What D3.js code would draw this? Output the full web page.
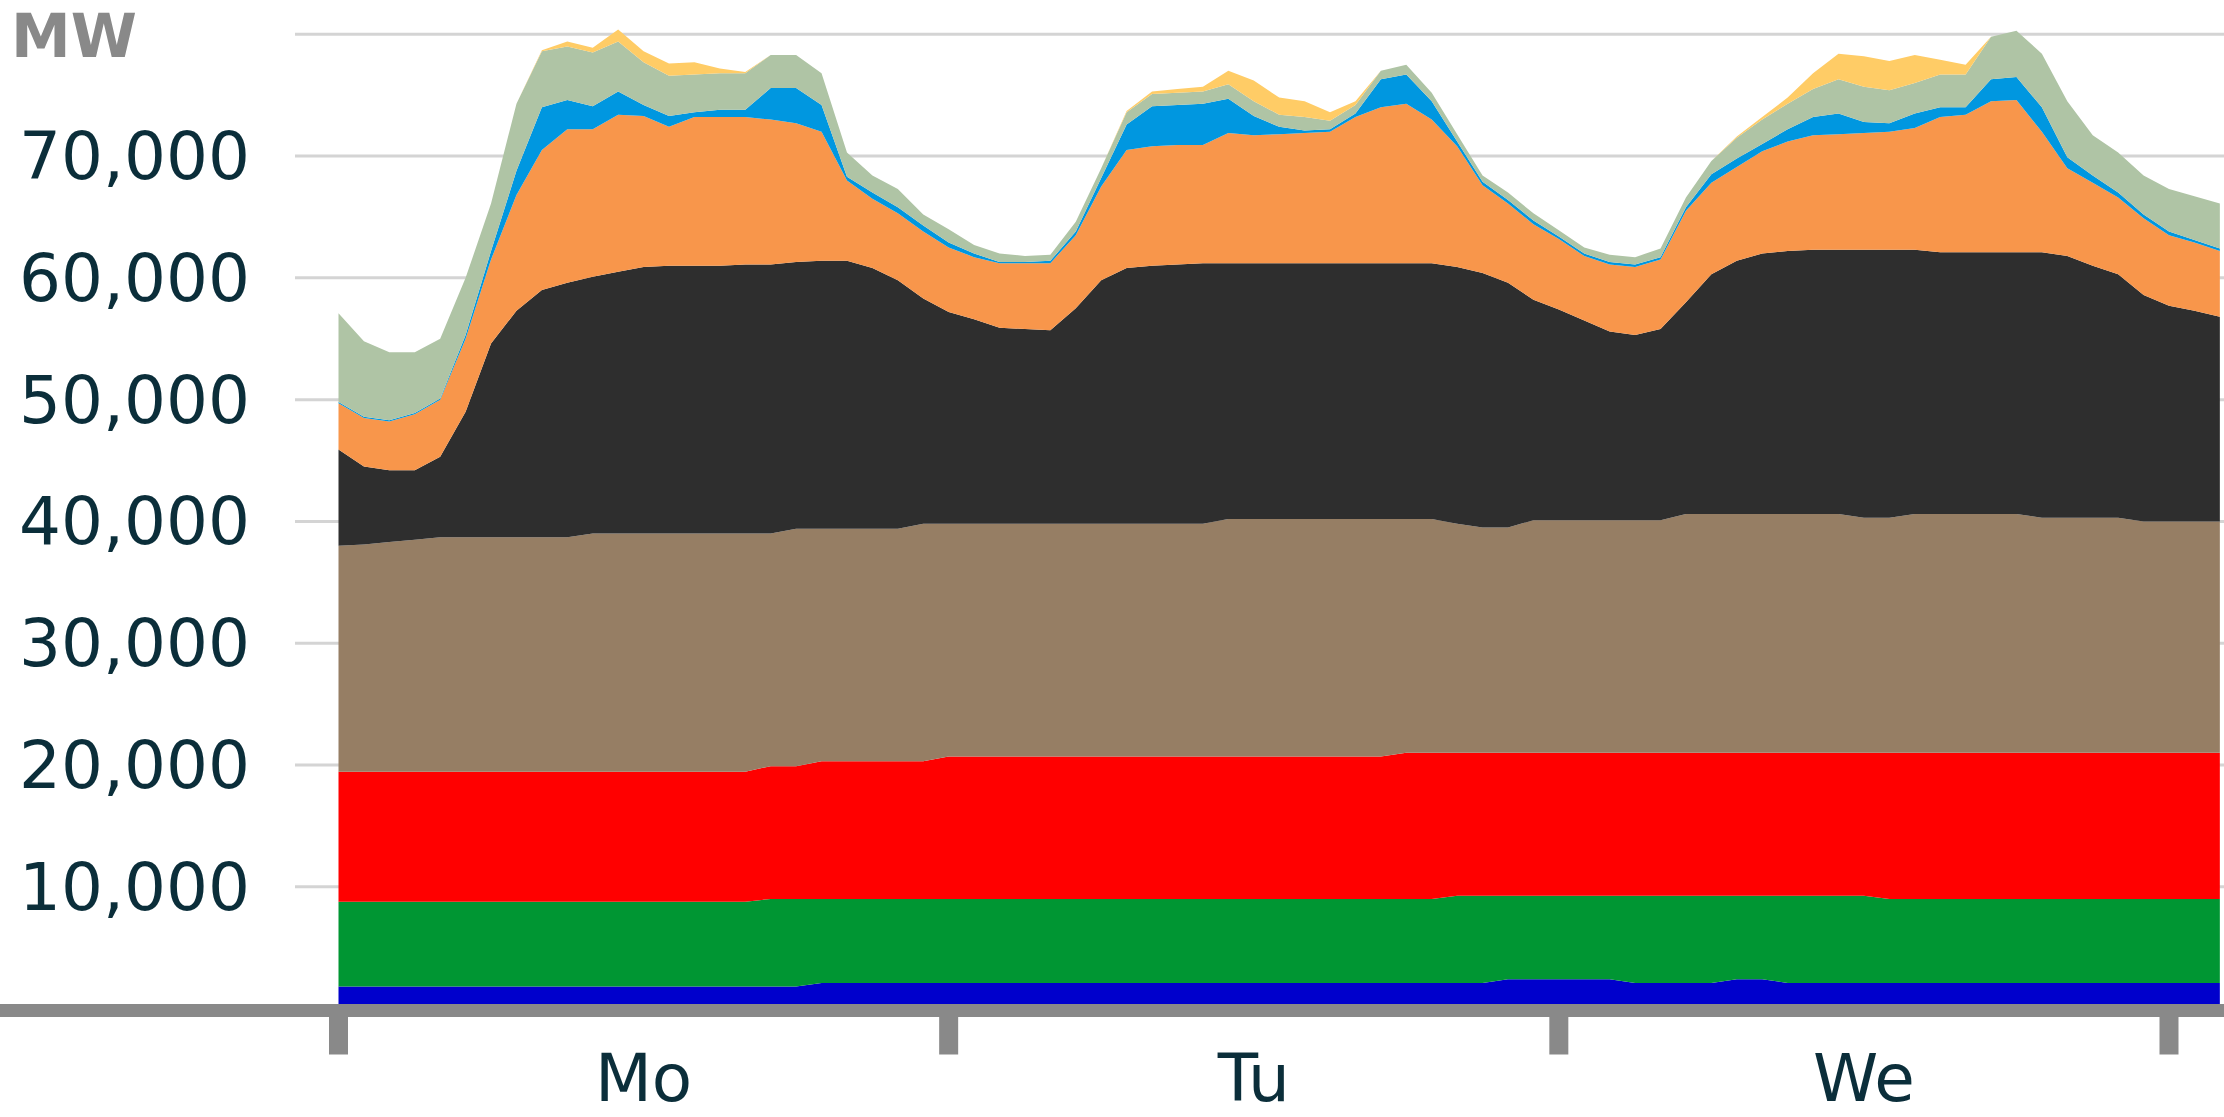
<!DOCTYPE html>
<html>
<head>
<meta charset="utf-8">
<script src="https://cdn.jsdelivr.net/npm/d3@7"></script>
<style>
  body { margin: 0; background: #fff; }
  svg { display: block; }
</style>
</head>
<body>
<div id="chart"></div>
<script>
// hourly values, Monday 00:00 to Thursday 02:00 (MW)
const hours = d3.range(0, 75);
const dayTicks = [0, 24, 48, 72];
const dayLabels = ["Mo", "Tu", "We"];
const gridValues = [10000, 20000, 30000, 40000, 50000, 60000, 70000, 80000];
const labelValues = [10000, 20000, 30000, 40000, 50000, 60000, 70000];

const hydro = [
  1800, 1800, 1800, 1800, 1800, 1800, 1800, 1800, 1800, 1800,
  1800, 1800, 1800, 1800, 1800, 1800, 1800, 1800, 1800, 2100,
  2100, 2100, 2100, 2100, 2100, 2100, 2100, 2100, 2100, 2100,
  2100, 2100, 2100, 2100, 2100, 2100, 2100, 2100, 2100, 2100,
  2100, 2100, 2100, 2100, 2100, 2100, 2400, 2400, 2400, 2400,
  2400, 2100, 2100, 2100, 2100, 2400, 2400, 2100, 2100, 2100,
  2100, 2100, 2100, 2100, 2100, 2100, 2100, 2100, 2100, 2100,
  2100, 2100, 2100, 2100, 2100];
const biomass = [
  6970, 6970, 6970, 6970, 6970, 6970, 6970, 6970, 6970, 6970,
  6970, 6970, 6970, 6970, 6970, 6970, 6970, 7200, 7200, 6900,
  6900, 6900, 6900, 6900, 6900, 6900, 6900, 6900, 6900, 6900,
  6900, 6900, 6900, 6900, 6900, 6900, 6900, 6900, 6900, 6900,
  6900, 6900, 6900, 6900, 7160, 7160, 6860, 6860, 6860, 6860,
  6860, 7160, 7160, 7160, 7160, 6860, 6860, 7160, 7160, 7160,
  7160, 6900, 6900, 6900, 6900, 6900, 6900, 6900, 6900, 6900,
  6900, 6900, 6900, 6900, 6900];
const nuclear = [
  10680, 10680, 10680, 10680, 10680, 10680, 10680, 10680, 10680, 10680,
  10680, 10680, 10680, 10680, 10680, 10680, 10680, 10900, 10900, 11300,
  11300, 11300, 11300, 11300, 11700, 11700, 11700, 11700, 11700, 11700,
  11700, 11700, 11700, 11700, 11700, 11700, 11700, 11700, 11700, 11700,
  11700, 11700, 12000, 12000, 11740, 11740, 11740, 11740, 11740, 11740,
  11740, 11740, 11740, 11740, 11740, 11740, 11740, 11740, 11740, 11740,
  11740, 12000, 12000, 12000, 12000, 12000, 12000, 12000, 12000, 12000,
  12000, 12000, 12000, 12000, 12000];
const lignite = [
  18550, 18650, 18850, 19050, 19250, 19250, 19250, 19250, 19250, 19250,
  19550, 19550, 19550, 19550, 19550, 19550, 19550, 19100, 19500, 19100,
  19100, 19100, 19100, 19500, 19100, 19100, 19100, 19100, 19100, 19100,
  19100, 19100, 19100, 19100, 19100, 19500, 19500, 19500, 19500, 19500,
  19500, 19500, 19200, 19200, 18800, 18500, 18500, 19100, 19100, 19100,
  19100, 19100, 19100, 19600, 19600, 19600, 19600, 19600, 19600, 19600,
  19300, 19300, 19600, 19600, 19600, 19600, 19600, 19300, 19300, 19300,
  19300, 19000, 19000, 19000, 19000];
const hardCoal = [
  7900, 6400, 5900, 5700, 6600, 10300, 15900, 18600, 20300, 20900,
  21100, 21500, 21900, 22000, 22000, 22000, 22100, 22100, 21900, 22000,
  22000, 21400, 20400, 18500, 17400, 16800, 16100, 16000, 15900, 17700,
  20000, 21000, 21200, 21300, 21400, 21000, 21000, 21000, 21000, 21000,
  21000, 21000, 21000, 21000, 21100, 20900, 20100, 18100, 17300, 16400,
  15500, 15200, 15700, 17400, 19700, 20800, 21400, 21600, 21700, 21700,
  22000, 22000, 21700, 21500, 21500, 21500, 21500, 21800, 21500, 20700,
  20000, 18600, 17700, 17300, 16800];
const gas = [
  3800, 4000, 4000, 4600, 4700, 6000, 6900, 9500, 11500, 12600,
  12100, 12900, 12400, 11400, 12200, 12200, 12100, 11900, 11400, 10600,
  6600, 5700, 5500, 5500, 5300, 5100, 5300, 5400, 5500, 6000,
  7700, 9700, 9800, 9800, 9700, 10700, 10500, 10600, 10700, 10800,
  12000, 12800, 13100, 11800, 9900, 7200, 6500, 6200, 5800, 5300,
  5500, 5600, 5700, 7500, 7500, 7700, 8400, 9000, 9400, 9500,
  9600, 9700, 10000, 11100, 11300, 12400, 12500, 9900, 7200, 6800,
  6300, 6300, 5800, 5600, 5400];
const pumped = [
  100, 100, 100, 100, 100, 300, 700, 2000, 3500, 2400,
  1900, 1900, 900, 900, 400, 600, 600, 2600, 2900, 2200,
  300, 500, 500, 500, 400, 300, 100, 100, 200, 300,
  700, 2100, 3300, 3300, 3400, 2800, 1600, 600, 200, 200,
  300, 2300, 2400, 1500, 400, 300, 300, 300, 200, 200,
  200, 200, 200, 300, 700, 700, 600, 1000, 1500, 1700,
  900, 700, 1200, 800, 600, 1800, 1900, 2000, 900, 600,
  400, 300, 300, 200, 200];
const wind = [
  7300, 6200, 5600, 5000, 4900, 4700, 3900, 5500, 4600, 4400,
  4400, 4100, 3500, 3300, 3100, 3000, 3000, 2700, 2700, 2600,
  2000, 1400, 1500, 900, 1100, 700, 700, 500, 500, 800,
  800, 1000, 1000, 1000, 1000, 1200, 1200, 1000, 1100, 700,
  700, 700, 800, 700, 600, 500, 600, 600, 500, 500,
  600, 600, 700, 800, 1100, 1700, 2000, 2100, 2300, 2800,
  2900, 2700, 2500, 2700, 2700, 3500, 3800, 4400, 4600, 3300,
  3300, 3200, 3500, 3600, 3700];
const solar = [
  0, 0, 0, 0, 0, 0, 0, 0, 100, 400,
  400, 1000, 900, 1000, 1000, 400, 100, 0, 0, 0,
  0, 0, 0, 0, 0, 0, 0, 0, 0, 0,
  0, 100, 200, 300, 400, 1100, 1700, 1400, 1300, 700,
  300, 0, 0, 0, 0, 0, 0, 0, 0, 0,
  0, 0, 0, 0, 0, 100, 200, 500, 1300, 2100,
  2500, 2400, 2300, 1200, 800, 0, 0, 0, 0, 0,
  0, 0, 0, 0, 0];

const keys = ["hydro", "biomass", "nuclear", "lignite", "hardCoal", "gas", "pumped", "wind", "solar"];
const colors = {
  hydro: "#0000cc", biomass: "#009633", nuclear: "#ff0000", lignite: "#967e64",
  hardCoal: "#2e2e2e", gas: "#f8964b", pumped: "#0097e0", wind: "#afc4a5", solar: "#ffcc66"
};

const series = { hydro, biomass, nuclear, lignite, hardCoal, gas, pumped, wind, solar };
const table = hours.map((h, i) => {
  const row = { hour: h };
  keys.forEach(k => row[k] = series[k][i]);
  return row;
});

const width = 2224, height = 1117;
const font = "'DejaVu Sans', Verdana, sans-serif";

const x = d3.scaleLinear().domain([0, 72]).range([338.5, 2169]);
const y = d3.scaleLinear().domain([0, 80000]).range([1008.5, 34.3]);

const svg = d3.select("#chart")
  .append("svg")
  .attr("width", width)
  .attr("height", height)
  .attr("viewBox", `0 0 ${width} ${height}`);

svg.append("rect").attr("width", width).attr("height", height).attr("fill", "#fff");

// gridlines
svg.append("g")
  .selectAll("line")
  .data(gridValues)
  .join("line")
  .attr("x1", 295)
  .attr("x2", width)
  .attr("y1", d => y(d))
  .attr("y2", d => y(d))
  .attr("stroke", "#d4d4d4")
  .attr("stroke-width", 3);

// stacked areas
const stacked = d3.stack().keys(keys)(table);
const area = d3.area()
  .x(d => x(d.data.hour))
  .y0(d => y(d[0]))
  .y1(d => y(d[1]));

svg.append("g")
  .selectAll("path")
  .data(stacked)
  .join("path")
  .attr("fill", d => colors[d.key])
  .attr("d", area);

// y labels
svg.append("g")
  .selectAll("text")
  .data(labelValues)
  .join("text")
  .attr("x", 250)
  .attr("y", d => y(d) + 23)
  .attr("text-anchor", "end")
  .text(d => d3.format(",")(d))
  .style("font-family", font)
  .style("font-size", "66px")
  .style("fill", "#0b2e3a");

svg.append("text")
  .attr("x", 11)
  .attr("y", 57)
  .text("MW")
  .style("font-family", font)
  .style("font-weight", "bold")
  .style("font-size", "60px")
  .style("fill", "#898989");

// x axis line and day ticks
svg.append("rect")
  .attr("x", 0)
  .attr("y", y(0) - 4.5)
  .attr("width", width)
  .attr("height", 13)
  .attr("fill", "#898989");

svg.append("g")
  .selectAll("rect")
  .data(dayTicks)
  .join("rect")
  .attr("x", d => x(d) - 9.5)
  .attr("y", y(0) + 8)
  .attr("width", 19)
  .attr("height", 38)
  .attr("fill", "#898989");

svg.append("g")
  .selectAll("text")
  .data(dayLabels)
  .join("text")
  .attr("x", (d, i) => x(12 + 24 * i))
  .attr("y", 1101)
  .attr("text-anchor", "middle")
  .text(d => d)
  .style("font-family", font)
  .style("font-size", "66px")
  .style("fill", "#0b2e3a");
</script>
</body>
</html>
